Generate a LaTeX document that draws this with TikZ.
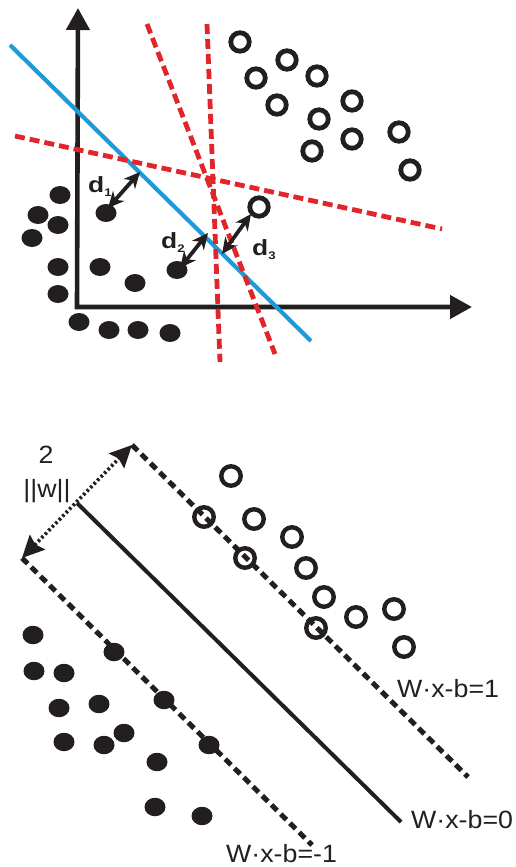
\documentclass[tikz,border=0pt]{standalone}
\usepackage{fontspec}
\setmainfont{Liberation Sans}
\newfontfamily\eqfont[FakeStretch=1.07]{Liberation Sans}
\newfontfamily\dfont[FakeStretch=1.2]{Liberation Sans}
\usetikzlibrary{arrows.meta,shapes.geometric}
\definecolor{ink}{HTML}{231F20}
\definecolor{svmred}{HTML}{E0262A}
\definecolor{svmblue}{HTML}{1E9AD8}
\begin{document}
\begin{tikzpicture}[x=1pt,y=-1pt,
  axes/.style={line width=4.6pt, draw=ink, line join=miter,
    {Triangle[length=22pt,width=23pt]}-{Triangle[length=22pt,width=23pt]}},
  hyper/.style={line width=4.8pt, draw=svmred, dash pattern=on 10pt off 5pt},
  best/.style={line width=4.2pt, draw=svmblue},
  ringtop/.style={circle, draw=ink, line width=4.8pt, minimum size=18.5pt, inner sep=0pt},
  ringbot/.style={circle, draw=ink, line width=4.4pt, minimum size=19.5pt, inner sep=0pt},
  dottop/.style={ellipse, fill=ink, minimum width=21pt, minimum height=18pt, inner sep=0pt},
  dotbot/.style={ellipse, fill=ink, minimum width=21pt, minimum height=18.5pt, inner sep=0pt},
  darrow/.style={line width=3.8pt, draw=ink,
    {Stealth[length=16pt,width=15pt,inset=5pt]}-{Stealth[length=16pt,width=15pt,inset=5pt]}},
  margin/.style={line width=5pt, draw=ink, dash pattern=on 8pt off 5pt},
  separator/.style={line width=4pt, draw=ink},
  widtharrow/.style={line width=3.6pt, draw=ink, dash pattern=on 2.5pt off 2.5pt,
    {Stealth[length=22pt,width=21pt,inset=3pt]}-{Stealth[length=22pt,width=21pt,inset=3pt]}},
  dlabel/.style={anchor=base west, inner sep=0pt, font=\dfont\fontsize{22}{22}\selectfont\bfseries, text=ink},
  eqlabel/.style={anchor=base west, inner sep=0pt, font=\eqfont\fontsize{25}{25}\selectfont, text=ink}
]
\useasboundingbox (0,0) rectangle (516,867);

% ---------- top panel ----------
\coordinate (ytip) at (78,8);
\coordinate (origin) at (77,307);
\coordinate (xtip) at (472,307);
\draw[axes] (ytip) -- (origin) -- (xtip);

\coordinate (b1) at (10,45);
\coordinate (b2) at (311,341);
\draw[best] (b1) -- (b2);

\coordinate (r1a) at (15,136);  \coordinate (r1b) at (442,229);
\coordinate (r2a) at (147,24);  \coordinate (r2b) at (275,354);
\coordinate (r3a) at (207,24);  \coordinate (r3b) at (220,362);
\draw[hyper] (r1a) -- (r1b);
\draw[hyper] (r2a) -- (r2b);
\draw[hyper] (r3a) -- (r3b);

% open circles (top)
\foreach \p [count=\i] in {(240,42),(287,60),(256,78),(317,76),(277,105),(352,101),
  (319,119),(352,139),(312,151),(399,132),(410,170),(259,207)}
  \node[ringtop] (to\i) at \p {};

% filled dots (top)
\foreach \p [count=\i] in {(60,195),(38,215),(58,225),(32,238),(106,213),(58,267),
  (100,267),(135,283),(177,270),(58,294),(79,322),(109,330),(138,330),(170,333)}
  \node[dottop] (tf\i) at \p {};

% distance arrows
\coordinate (d1s) at (108,208); \coordinate (d1e) at (140,172);
\coordinate (d2s) at (180,268); \coordinate (d2e) at (208,233);
\coordinate (d3s) at (251,214); \coordinate (d3e) at (222,254);
\draw[darrow] (d1s) -- (d1e);
\draw[darrow] (d2s) -- (d2e);
\draw[darrow] (d3s) -- (d3e);

\node[dlabel] (ld1) at (88,192) {d\raisebox{-4pt}{\fontsize{11}{11}\selectfont\bfseries 1}};
\node[dlabel] (ld2) at (161,248) {d\raisebox{-4pt}{\fontsize{11}{11}\selectfont\bfseries 2}};
\node[dlabel] (ld3) at (252,255) {d\raisebox{-4pt}{\fontsize{11}{11}\selectfont\bfseries 3}};

% ---------- bottom panel ----------
\coordinate (pa) at (132,445); \coordinate (pb) at (468,777);
\coordinate (sa) at (77,503);  \coordinate (sb) at (401,822);
\coordinate (na) at (22,558);  \coordinate (nb) at (312,845);

% open circles (bottom)
\foreach \p [count=\i] in {(231,476),(204,517),(254,519),(292,537),(245,558),(306,568),
  (324,597),(356,617),(394,609),(316,628),(404,647)}
  \node[ringbot] (bo\i) at \p {};

% filled dots (bottom)
\foreach \p [count=\i] in {(33,635),(114,652),(34,671),(64,673),(59,708),(99,704),
  (164,700),(124,733),(64,742),(104,745),(209,745),(157,762),(155,807),(202,816)}
  \node[dotbot] (bf\i) at \p {};

\draw[margin] (pa) -- (pb);
\draw[separator] (sa) -- (sb);
\draw[margin] (na) -- (nb);
\draw[widtharrow] (na) -- (pa);

\node[anchor=base, inner sep=0pt, font=\eqfont\fontsize{25}{25}\selectfont, text=ink] (two) at (46,463) {2};
\node[anchor=base, inner sep=0pt, font=\eqfont\fontsize{25}{25}\selectfont, text=ink] (norm) at (47,497) {||w||};

\node[eqlabel] (eq1) at (397,697) {W·x-b=1};
\node[eqlabel] (eq0) at (411,828) {W·x-b=0};
\node[eqlabel] (eqm) at (226,862) {W·x-b=-1};
\end{tikzpicture}
\end{document}
